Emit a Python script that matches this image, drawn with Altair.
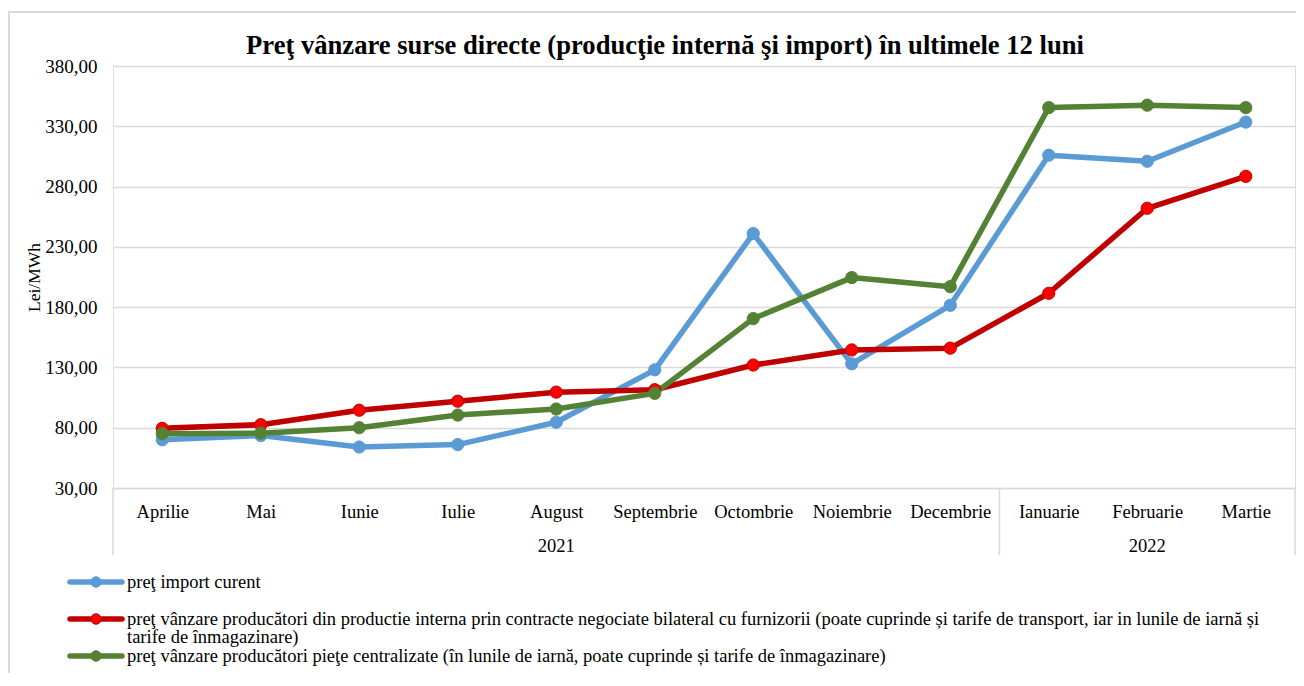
import altair as alt
import pandas as pd

# ---------------- data ----------------
months = ["Aprilie", "Mai", "Iunie", "Iulie", "August", "Septembrie",
          "Octombrie", "Noiembrie", "Decembrie", "Ianuarie", "Februarie", "Martie"]
month_year = ["2021"] * 9 + ["2022"] * 3

series_names = [
    "preţ import curent",
    "preţ vânzare producători din productie interna prin contracte negociate bilateral cu furnizorii (poate cuprinde și tarife de transport, iar in lunile de iarnă și tarife de înmagazinare)",
    "preţ vânzare producători pieţe centralizate (în lunile de iarnă, poate cuprinde și tarife de înmagazinare)",
]

import_curent = [70.0, 73.5, 64.0, 66.0, 84.5, 128.0, 241.0, 133.0, 181.5, 306.0, 301.0, 333.5]
contracte_bilaterale = [79.5, 82.5, 94.5, 102.0, 109.5, 111.5, 132.0, 144.5, 146.0, 191.5, 262.0, 288.5]
piete_centralizate = [75.0, 75.5, 80.0, 90.5, 95.5, 108.5, 170.5, 204.5, 197.0, 345.5, 347.5, 345.5]

title_text = "Preţ vânzare surse directe (producţie internă şi import) în ultimele 12 luni"
y_title = "Lei/MWh"

line_colors = ["#5b9bd5", "#c00000", "#548235"]
marker_fill = ["#5b9bd5", "#ff0000", "#548235"]

# ---------------- tables ----------------
rows = []
for s, vals in zip(series_names, [import_curent, contracte_bilaterale, piete_centralizate]):
    for i, (m, v) in enumerate(zip(months, vals)):
        rows.append({"series": s, "month": m, "idx": i, "value": v})
df = pd.DataFrame(rows)

legend_df = pd.DataFrame({
    "series": series_names,
    "row": list(range(len(series_names))),
    "label": [s.replace("iarnă și tarife", "iarnă și\ntarife") for s in series_names],
})

year_names = sorted(set(month_year))
year_mid = []
for yv in year_names:
    idxs = [i for i, y in enumerate(month_year) if y == yv]
    year_mid.append(months[idxs[len(idxs) // 2]])
years_df = pd.DataFrame({"year": year_names, "month": year_mid})

# group boundaries (in month counts)
bounds = [0]
for yv in year_names:
    bounds.append(bounds[-1] + month_year.count(yv))

# ---------------- layout ----------------
W, H = 1182, 422
FONT = "Liberation Serif"
GRID = "#d9d9d9"

color_scale = alt.Scale(domain=series_names, range=line_colors)
fill_scale = alt.Scale(domain=series_names, range=marker_fill)
stroke_scale = alt.Scale(domain=series_names, range=line_colors)

x_enc = alt.X(
    "month:N",
    sort=months,
    scale=alt.Scale(type="point", domain=months, padding=0.5),
    axis=alt.Axis(title=None, ticks=False, labelPadding=23, labelBaseline="middle",
                  labelFontSize=18.5, labelColor="black", labelAngle=0, labelFont=FONT,
                  domainColor=GRID, domainWidth=1.5, grid=False),
)

y_enc = alt.Y(
    "value:Q",
    scale=alt.Scale(domain=[30, 380], nice=False, zero=False),
    axis=alt.Axis(values=list(range(30, 381, 50)),
                  labelExpr="replace(format(datum.value, '.2f'), '.', ',')",
                  title=y_title, titleFont=FONT, titleFontSize=17.5, titleFontWeight="normal",
                  titleColor="black", titleAngle=270, titleX=-79, titleY=H / 2,
                  titleAlign="center", titleBaseline="middle",
                  domain=False, ticks=False, gridColor=GRID, gridWidth=1.5,
                  labelFontSize=19, labelFont=FONT, labelColor="black", labelPadding=16),
)

lines = alt.Chart(df).mark_line(strokeWidth=5.5, strokeJoin="round", strokeCap="round").encode(
    x=x_enc, y=y_enc,
    color=alt.Color("series:N", scale=color_scale, legend=None),
    order=alt.Order("idx:Q"),
)

points = alt.Chart(df).mark_point(filled=True, size=150, strokeWidth=1, opacity=1).encode(
    x=x_enc,
    y=alt.Y("value:Q", scale=alt.Scale(domain=[30, 380], nice=False, zero=False), axis=None),
    fill=alt.Fill("series:N", scale=fill_scale, legend=None),
    stroke=alt.Stroke("series:N", scale=stroke_scale, legend=None),
)

year_text = alt.Chart(years_df).mark_text(fontSize=18.5, font=FONT, color="black", baseline="middle").encode(
    x=x_enc, y=alt.value(480), text="year:N",
)

dividers = [
    alt.Chart(pd.DataFrame({"b": [b]})).mark_rule(color=GRID, strokeWidth=1.5).encode(
        x=alt.value(b / len(months) * W), y=alt.value(H), y2=alt.value(H + 67)
    )
    for b in bounds
]

row_y = alt.Y("row:O", scale=alt.Scale(type="point", range=[516, 590], padding=0), axis=None)

leg_lines = alt.Chart(legend_df).mark_rule(strokeWidth=5.5, strokeCap="round").encode(
    x=alt.value(-43), x2=alt.value(9), y=row_y,
    color=alt.Color("series:N", scale=color_scale, legend=None),
)
leg_points = alt.Chart(legend_df).mark_point(filled=True, size=110, strokeWidth=1, opacity=1).encode(
    x=alt.value(-17), y=row_y,
    fill=alt.Fill("series:N", scale=fill_scale, legend=None),
    stroke=alt.Stroke("series:N", scale=stroke_scale, legend=None),
)
leg_text = alt.Chart(legend_df).mark_text(
    align="left", baseline="top", dy=-9, fontSize=18.5, font=FONT, color="black",
    lineBreak="\n", lineHeight=17.5,
).encode(x=alt.value(14), y=row_y, text="label:N")

title_df = pd.DataFrame({"title": [title_text]})
title_mark = alt.Chart(title_df).mark_text(
    fontSize=26.6, font=FONT, fontWeight="bold", color="black",
    align="center", baseline="alphabetic",
).encode(x=alt.value(552), y=alt.value(-12), text="title:N")

border = alt.Chart(pd.DataFrame({"a": [0]})).mark_rect(
    fill="transparent", stroke=GRID, strokeWidth=2
).encode(x=alt.value(-104), x2=alt.value(W + 40), y=alt.value(-54), y2=alt.value(H + 300))

chart = alt.layer(
    border, *dividers, lines, points, year_text, leg_lines, leg_points, leg_text, title_mark
).resolve_scale(y="independent").properties(
    width=W, height=H,
    autosize=alt.AutoSizeParams(type="none"),
    padding={"left": 105, "top": 58, "right": 1, "bottom": 185},
).configure_view(stroke=None).configure(font=FONT, background="white")

chart.save("out.html", embed_options={"renderer": "svg", "actions": False})
